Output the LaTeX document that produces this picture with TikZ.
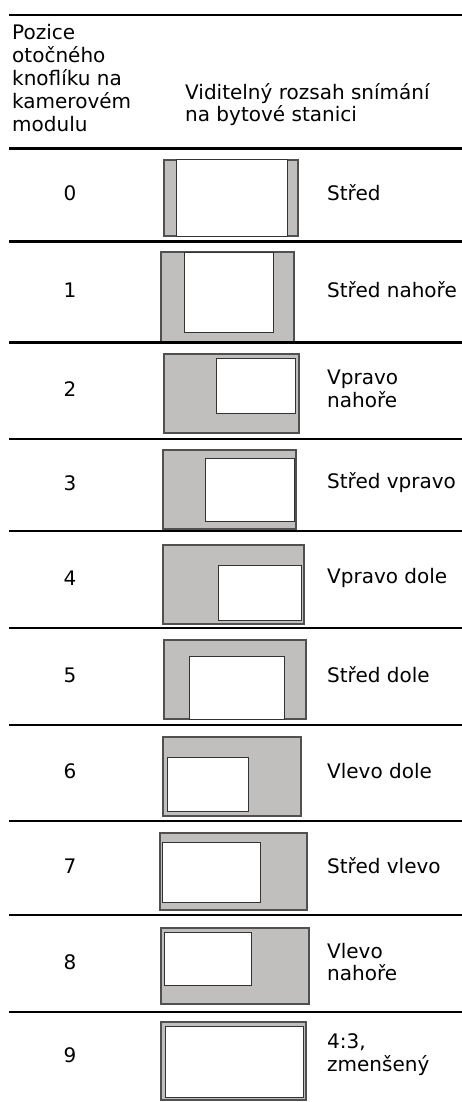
\documentclass[tikz,border=0pt]{standalone}
\usepackage{fontspec}
\setmainfont{DejaVu Sans}
\definecolor{screengray}{RGB}{192,191,189}
\definecolor{edgegray}{RGB}{80,80,80}
\begin{document}
\begin{tikzpicture}[x=1pt,y=-1pt,font=\fontsize{20}{22.8}\selectfont,
  rule/.style={line width=2.6pt},
  outer/.style={fill=screengray,draw=edgegray,line width=1.2pt},
  inner/.style={fill=white,draw=black!80,line width=1pt},
  num/.style={inner sep=0pt},
  lbl/.style={anchor=west,inner sep=0pt,align=left},
  head/.style={anchor=north west,inner sep=0pt,align=left}]
\useasboundingbox (0,0) rectangle (462,1102);

\node[head] (h1) at (12,24.5) {Pozice\\otočného\\knoflíku na\\kamerovém\\modulu};
\node[head] (h2) at (185,83) {Viditelný rozsah snímání\\na bytové stanici};

% screens
\filldraw[outer] (164,160) rectangle (298,236);
\filldraw[inner] (176,160) rectangle (287,236);
\filldraw[outer] (161,252) rectangle (294,341.5);
\filldraw[inner] (184,252) rectangle (273,332);
\filldraw[outer] (164,354) rectangle (299,433);
\filldraw[inner] (216,358) rectangle (295,413);
\filldraw[outer] (163,450) rectangle (296,529);
\filldraw[inner] (205,458) rectangle (294,521);
\filldraw[outer] (163,545) rectangle (304,624);
\filldraw[inner] (218,565) rectangle (301,620);
\filldraw[outer] (164,640) rectangle (306,719);
\filldraw[inner] (189,656) rectangle (284,719);
\filldraw[outer] (163,737) rectangle (301,816);
\filldraw[inner] (167,757) rectangle (248,811);
\filldraw[outer] (160,833) rectangle (307,910);
\filldraw[inner] (162,842) rectangle (260,902);
\filldraw[outer] (161,928) rectangle (309,1004);
\filldraw[inner] (164,932) rectangle (251,985);
\filldraw[outer] (161,1022) rectangle (306,1100);
\filldraw[inner] (165,1026) rectangle (303,1097);

% positions
\node[num] (n0) at (70,193) {0};
\node[num] (n1) at (70,290) {1};
\node[num] (n2) at (70,389) {2};
\node[num] (n3) at (70,483) {3};
\node[num] (n4) at (70,578) {4};
\node[num] (n5) at (70,675) {5};
\node[num] (n6) at (70,771) {6};
\node[num] (n7) at (70,866) {7};
\node[num] (n8) at (70,962) {8};
\node[num] (n9) at (70,1055) {9};

\node[lbl] (l0) at (327,193) {Střed};
\node[lbl] (l1) at (327,290) {Střed nahoře};
\node[lbl] (l2) at (327,389) {Vpravo\\nahoře};
\node[lbl] (l3) at (327,483) {Střed vpravo};
\node[lbl] (l4) at (327,578) {Vpravo dole};
\node[lbl] (l5) at (327,675) {Střed dole};
\node[lbl] (l6) at (327,771) {Vlevo dole};
\node[lbl] (l7) at (327,866) {Střed vlevo};
\node[lbl] (l8) at (327,962) {Vlevo\\nahoře};
\node[lbl] (l9) at (327,1055) {4:3,\\zmenšený};

% rules
\draw[rule] (9,15) -- (462,15);
\draw[rule] (9,148.5) -- (462,148.5);
\draw[rule] (9,241.5) -- (462,241.5);
\draw[rule] (9,342.5) -- (462,342.5);
\draw[rule] (9,439) -- (462,439);
\draw[rule] (9,531) -- (462,531);
\draw[rule] (9,628) -- (462,628);
\draw[rule] (9,725) -- (462,725);
\draw[rule] (9,821) -- (462,821);
\draw[rule] (9,915) -- (462,915);
\draw[rule] (9,1012) -- (462,1012);
\end{tikzpicture}
\end{document}
